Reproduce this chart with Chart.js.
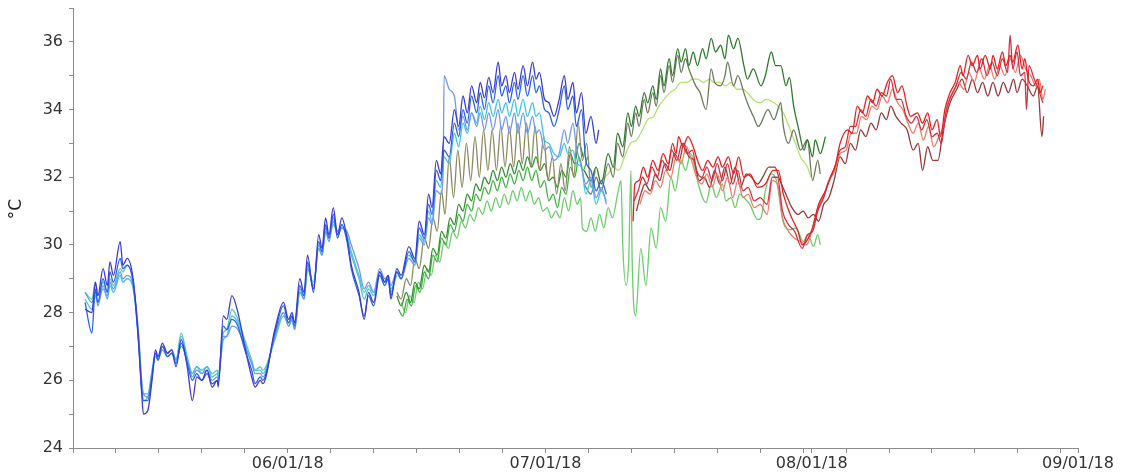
<!DOCTYPE html>
<html>
<head>
<meta charset="utf-8">
<script src="https://cdn.jsdelivr.net/npm/chart.js@4.4.1/dist/chart.umd.min.js"></script>
<style>
    html, body { margin: 0; padding: 0; background: #fff; }
    #wrap { width: 1125px; height: 475px; }
</style>
</head>
<body>
<div id="wrap"><canvas id="tempChart" width="1125" height="475"></canvas></div>
<script>
// x values are days since 2018-05-01 (31 = 06/01, 61 = 07/01, 92 = 08/01, 123 = 09/01)
const monthTicks = [31, 61, 92, 123];
const monthLabels = ['06/01/18', '07/01/18', '08/01/18', '09/01/18'];
const minorTicks = [6, 11, 16, 21, 26, 36, 41, 46, 51, 56, 66, 71, 76, 81, 86, 91, 96, 101, 106, 111, 116, 121];
const yTicks = [24, 25, 26, 27, 28, 29, 30, 31, 32, 33, 34, 35, 36, 37];
const yTitle = '°C';

// blue loggers (May - early July)
const violet = [[7.4,28.1],[8.2,28.0],[8.6,28.9],[8.9,28.5],[9.5,29.3],[10.0,28.8],[10.3,29.5],[10.7,29.1],[11.5,30.1],[11.8,29.4],[12.3,29.6],[13.0,29.0],[13.6,27.3],[14.0,25.6],[14.2,25.0],[14.7,25.1],[15.2,26.0],[15.6,26.9],[15.9,26.7],[16.4,27.1],[17.0,26.8],[17.5,26.9],[18.0,26.4],[18.6,27.2],[19.3,26.4],[19.9,25.4],[20.4,26.1],[21.0,26.0],[21.6,26.3],[22.2,25.8],[22.8,26.0],[22.9,25.8],[23.5,27.9],[23.9,27.8],[24.5,28.5],[25.2,28.0],[26.0,27.0],[26.8,26.1],[27.2,25.8],[27.8,26.0],[28.1,25.9],[29.5,27.5],[30.5,28.3],[31.1,27.8],[31.5,28.0],[31.8,27.7],[32.4,29.0],[32.9,28.6],[33.3,29.7],[34.0,28.6],[34.6,30.3],[35.0,29.9],[35.4,30.8],[35.8,30.3],[36.3,31.1],[36.8,30.3],[37.3,30.8],[37.9,30.2],[38.4,29.4],[39.3,28.6],[39.9,27.8],[40.4,28.6],[41.0,28.3],[41.7,29.2],[42.3,28.9],[42.7,29.1],[43.0,28.4],[43.7,29.3],[44.2,29.1],[45.1,29.95],[45.8,29.6],[46.3,30.7],[46.9,30.3],[47.4,31.5],[47.8,31.1],[48.3,32.5],[48.8,32.1],[49.2,33.2],[49.8,33.0],[50.4,34.0],[50.9,33.5],[51.4,34.4],[51.9,33.9],[52.4,34.7],[53.0,34.2],[53.4,34.8],[53.9,34.35],[54.4,34.95],[54.9,34.5],[55.5,35.4],[55.9,34.7],[56.4,35.0],[56.8,34.5],[57.4,35.1],[57.8,34.6],[58.4,35.3],[58.9,34.7],[59.5,35.4],[59.9,34.9],[60.3,35.1],[60.9,34.3],[61.4,34.2],[62.0,33.8],[62.6,34.3],[63.2,35.0],[63.6,34.3],[64.2,34.8],[64.6,33.9],[65.2,34.5],[65.7,33.3],[66.3,33.8],[66.9,33.0],[67.2,33.4]];
const blue = [[7.4,28.3],[8.2,27.4],[8.6,28.7],[8.9,28.3],[9.5,29.0],[10.0,28.6],[10.3,29.2],[10.7,28.9],[11.5,29.6],[11.8,29.3],[12.3,29.4],[13.0,28.9],[13.6,27.2],[14.0,25.7],[14.2,25.4],[14.7,25.4],[15.2,26.1],[15.6,26.8],[15.9,26.6],[16.4,27.0],[17.0,26.7],[17.5,26.8],[18.0,26.5],[18.6,27.1],[19.3,26.5],[19.9,26.0],[20.4,26.2],[21.0,26.0],[21.6,26.2],[22.2,25.9],[22.8,26.0],[22.9,25.9],[23.5,27.6],[23.9,27.5],[24.5,27.8],[25.2,27.6],[26.0,26.9],[26.8,26.3],[27.2,25.9],[27.8,26.1],[28.1,26.0],[29.5,27.4],[30.5,28.2],[31.1,27.7],[31.5,27.9],[31.8,27.6],[32.4,28.8],[32.9,28.5],[33.3,29.5],[34.0,28.7],[34.6,30.1],[35.0,29.8],[35.4,30.6],[35.8,30.2],[36.3,30.9],[36.8,30.2],[37.3,30.6],[37.9,30.1],[38.4,29.3],[39.3,28.5],[39.9,27.9],[40.4,28.5],[41.0,28.2],[41.7,29.1],[42.3,28.8],[42.7,29.0],[43.0,28.5],[43.7,29.2],[44.2,29.0],[45.1,29.8],[45.8,29.5],[46.3,30.5],[46.9,30.2],[47.4,31.2],[47.8,30.9],[48.3,32.2],[48.8,31.9],[49.2,32.8],[49.8,32.6],[50.4,33.6],[50.9,33.2],[51.4,34.0],[51.9,33.6],[52.4,34.4],[53.0,33.9],[53.4,34.5],[53.9,34.0],[54.4,34.7],[54.9,34.2],[55.5,35.0],[55.9,34.4],[56.4,34.7],[56.8,34.2],[57.4,34.8],[57.8,34.3],[58.4,35.0],[58.9,34.4],[59.5,35.0],[59.9,34.5],[60.3,34.7],[60.9,34.0],[61.4,33.9],[62.0,33.5],[62.6,34.0],[63.2,34.7],[63.6,34.0],[64.2,34.4],[64.6,33.5],[65.2,34.0],[65.7,32.5],[66.3,32.2],[66.9,31.6],[67.5,31.9],[68.1,31.5]];
const paleBlue = [[7.4,28.6],[8.2,28.3],[8.6,28.6],[8.9,28.2],[9.5,28.8],[10.0,28.4],[10.3,28.9],[10.7,28.7],[11.5,29.2],[11.8,29.0],[12.3,29.1],[13.0,28.8],[13.6,27.5],[14.0,26.0],[14.2,25.6],[14.7,25.5],[15.2,26.2],[15.6,26.7],[15.9,26.6],[16.4,26.9],[17.0,26.7],[17.5,26.8],[18.0,26.6],[18.6,27.0],[19.3,26.6],[19.9,26.1],[20.4,26.3],[21.0,26.2],[21.6,26.3],[22.2,26.0],[22.8,26.1],[22.9,26.0],[23.5,27.3],[23.9,27.3],[24.5,27.6],[25.2,27.5],[26.0,27.0],[26.8,26.5],[27.2,26.2],[27.8,26.2],[28.1,26.1],[29.5,27.3],[30.5,28.0],[31.1,27.6],[31.5,27.8],[31.8,27.5],[32.4,28.6],[32.9,28.4],[33.3,29.3],[34.0,28.8],[34.6,29.9],[35.0,29.7],[35.4,30.4],[35.8,30.1],[36.3,30.7],[36.8,30.3],[37.3,30.5],[37.9,30.4],[38.4,30.0],[39.3,29.3],[39.9,28.7],[40.4,28.9],[41.0,28.6],[41.7,29.3],[42.3,29.0],[42.7,29.1],[43.0,28.8],[43.7,29.2],[44.2,29.0],[45.1,29.6],[45.8,29.4],[46.3,30.2],[46.9,30.0],[47.4,30.8],[47.8,30.6],[48.3,31.6],[48.8,31.5],[49.1,32.2],[49.2,35.0],[49.8,34.6],[50.4,34.4],[50.9,33.4],[51.4,33.8],[51.9,33.4],[52.4,33.9],[53.0,33.5],[53.4,33.9],[53.9,33.4],[54.4,33.9],[54.9,33.4],[55.5,34.0],[55.9,33.4],[56.4,33.8],[56.8,33.3],[57.4,33.9],[57.8,33.3],[58.4,33.9],[58.9,33.3],[59.5,33.8],[59.9,33.3],[60.3,33.4],[60.9,32.8],[61.4,32.9],[62.0,32.5],[62.6,32.7],[63.2,33.4],[63.6,33.0],[64.2,33.6],[64.6,32.9],[65.2,32.3],[65.7,31.8],[66.3,32.0],[66.9,31.4],[67.5,31.7],[68.1,31.2]];
const cyan = [[7.4,28.4],[8.2,28.1],[8.6,28.5],[8.9,28.3],[9.5,28.7],[10.0,28.5],[10.3,28.8],[10.7,28.6],[11.5,29.1],[11.8,28.9],[12.3,29.0],[13.0,28.7],[13.6,27.4],[14.0,25.9],[14.2,25.6],[14.7,25.6],[15.2,26.3],[15.6,26.8],[15.9,26.7],[16.4,27.0],[17.0,26.8],[17.5,26.9],[18.0,26.6],[18.6,27.3],[19.3,26.7],[19.9,26.2],[20.4,26.4],[21.0,26.3],[21.6,26.4],[22.2,26.1],[22.8,26.2],[22.9,26.1],[23.5,27.2],[23.9,27.3],[24.5,27.9],[25.2,27.7],[26.0,27.1],[26.8,26.5],[27.2,26.3],[27.8,26.3],[28.1,26.2],[29.5,27.3],[30.5,28.0],[31.1,27.6],[31.5,27.8],[31.8,27.5],[32.4,28.7],[32.9,28.4],[33.3,29.4],[34.0,28.7],[34.6,30.0],[35.0,29.7],[35.4,30.5],[35.8,30.2],[36.3,30.8],[36.8,30.4],[37.3,30.6],[37.9,30.2],[38.4,29.7],[39.3,29.0],[39.9,28.4],[40.4,28.7],[41.0,28.5],[41.7,29.2],[42.3,28.9],[42.7,29.1],[43.0,28.6],[43.7,29.2],[44.2,29.0],[45.1,29.7],[45.8,29.5],[46.3,30.3],[46.9,30.1],[47.4,31.0],[47.8,30.7],[48.3,31.9],[48.8,31.7],[49.2,32.6],[49.8,32.4],[50.4,33.3],[50.9,32.9],[51.4,33.6],[51.9,33.3],[52.4,33.9],[53.0,33.6],[53.4,34.1],[53.9,33.7],[54.4,34.2],[54.9,33.8],[55.5,34.3],[55.9,33.9],[56.4,34.2],[56.8,33.8],[57.4,34.3],[57.8,33.8],[58.4,34.3],[58.9,33.8],[59.5,34.2],[59.9,33.8],[60.3,33.9],[60.9,33.1],[61.4,33.0],[62.0,32.7],[62.6,32.6],[63.2,33.0],[63.6,32.7],[64.2,32.8],[64.6,32.4],[65.2,32.3],[65.7,31.5],[66.3,31.9],[66.9,31.2],[67.5,31.6],[68.1,31.3]];
const teal = [[7.4,28.6],[8.2,28.4],[8.6,28.9],[8.9,28.5],[9.5,28.9],[10.0,28.6],[10.3,29.0],[10.7,28.8],[11.5,29.3],[11.8,29.2],[12.3,29.4],[13.0,28.9],[13.6,27.3],[14.0,25.8],[14.2,25.4],[14.7,25.5],[15.2,26.1],[15.6,26.8],[15.9,26.6],[16.4,27.0],[17.0,26.8],[17.5,26.9],[18.0,26.6],[18.6,27.4],[19.3,26.6],[19.9,26.2],[20.4,26.4],[21.0,26.2],[21.6,26.4],[22.2,26.2],[22.8,26.3],[22.9,26.2],[23.5,27.4],[23.9,27.5],[24.5,28.1],[25.2,27.8],[26.0,27.2],[26.8,26.6],[27.2,26.3],[27.8,26.4],[28.1,26.3],[29.5,27.2],[30.5,27.9],[31.1,27.7],[31.5,27.9],[31.8,27.6],[32.4,28.6],[32.9,28.5],[33.3,29.3],[34.0,28.9],[34.6,29.9],[35.0,29.7],[35.4,30.4],[35.8,30.2],[36.3,30.6],[36.8,30.4],[37.3,30.5],[37.9,30.3],[38.4,29.8],[39.3,29.1],[39.9,28.6],[40.4,28.8],[41.0,28.6],[41.7,29.1],[42.3,28.9],[42.7,29.0],[43.0,28.7],[43.7,29.1]];

// green loggers (mid June - early August)
const olive = [[43.7,28.6],[44.2,28.4],[44.8,29.0],[45.3,28.8],[45.8,29.6],[46.3,29.3],[46.9,30.2],[47.4,29.9],[47.9,30.8],[48.4,30.4],[48.9,31.6],[49.3,30.9],[49.8,32.6],[50.3,31.4],[50.8,32.8],[51.3,31.7],[51.8,33.0],[52.3,31.9],[52.8,33.2],[53.3,32.0],[53.8,33.4],[54.3,32.2],[54.8,33.4],[55.3,32.2],[55.8,33.5],[56.3,32.3],[56.8,33.5],[57.3,32.3],[57.8,33.6],[58.3,32.4],[58.8,33.6],[59.3,32.3],[59.8,33.5],[60.3,32.2],[60.8,33.2],[61.3,31.9],[61.8,32.6],[62.3,31.5],[62.8,32.4],[63.3,31.6],[63.8,32.9],[64.3,32.0],[64.8,33.6],[65.3,32.5],[65.8,33.0],[66.3,31.7],[66.8,32.2]];
const green1 = [[43.7,28.5],[44.2,28.2],[44.8,28.6],[45.3,28.3],[45.8,28.9],[46.3,28.7],[46.9,29.4],[47.4,29.2],[47.9,29.9],[48.4,29.7],[48.9,30.4],[49.4,30.2],[49.9,30.8],[50.4,30.6],[50.9,31.2],[51.4,31.0],[51.9,31.5],[52.4,31.3],[52.9,31.8],[53.4,31.6],[53.9,32.0],[54.4,31.8],[54.9,32.2],[55.4,31.9],[55.9,32.3],[56.4,32.0],[56.9,32.4],[57.4,32.1],[57.9,32.5],[58.4,32.2],[58.9,32.6],[59.4,32.3],[59.9,32.6],[60.4,32.2],[60.9,32.4],[61.4,31.9],[61.9,32.0],[62.4,31.7],[62.9,32.2],[63.4,32.0],[63.9,32.7],[64.4,32.4],[64.9,33.0],[65.4,32.6]];
const green2 = [[43.9,28.1],[44.4,27.9],[44.9,28.4],[45.4,28.2],[45.9,28.8],[46.4,28.6],[46.9,29.2],[47.4,29.0],[47.9,29.7],[48.4,29.5],[48.9,30.2],[49.4,30.0],[49.9,30.6],[50.4,30.4],[50.9,30.9],[51.4,30.7],[51.9,31.2],[52.4,31.0],[52.9,31.5],[53.4,31.3],[53.9,31.7],[54.4,31.5],[54.9,31.9],[55.4,31.6],[55.9,32.0],[56.4,31.7],[56.9,32.1],[57.4,31.8],[57.9,32.2],[58.4,31.9],[58.9,32.3],[59.4,31.9],[59.9,32.2],[60.4,31.7],[60.9,31.9],[61.4,31.3],[61.9,31.5],[62.4,31.1],[62.9,31.7],[63.4,31.5],[63.9,32.3],[64.4,32.0],[64.9,32.6],[65.4,32.2],[65.9,32.6]];
const green3 = [[44.2,28.3],[44.7,28.0],[45.2,28.5],[45.7,28.3],[46.2,28.9],[46.7,28.7],[47.2,29.3],[47.7,29.1],[48.2,29.7],[48.7,29.5],[49.2,30.1],[49.7,29.9],[50.2,30.4],[50.7,30.2],[51.2,30.7],[51.7,30.5],[52.2,30.9],[52.7,30.7],[53.2,31.1],[53.7,30.9],[54.2,31.3],[54.7,31.0],[55.2,31.4],[55.7,31.1],[56.2,31.5],[56.7,31.2],[57.2,31.6],[57.7,31.3],[58.2,31.7],[58.7,31.3],[59.2,31.6],[59.7,31.2],[60.2,31.4],[60.7,31.0],[61.2,31.1],[61.7,30.8],[62.2,31.0],[62.7,30.8],[63.2,31.4],[63.7,31.0],[64.2,31.6],[64.7,31.2],[65.1,31.4],[65.3,30.5],[65.8,30.4],[66.3,30.8],[66.8,30.4],[67.3,30.9],[67.8,30.5],[68.3,31.1],[68.8,30.8],[69.4,31.5],[69.8,31.9],[70.0,30.0],[70.4,28.8],[70.7,29.6],[70.95,32.2],[71.1,29.5],[71.5,27.9],[72.1,29.9],[72.7,28.8],[73.3,30.5],[73.9,29.9],[74.4,31.1],[75.0,30.7],[75.6,32.0],[76.1,31.6],[76.8,32.5],[77.3,32.2],[77.9,32.7],[78.4,32.3],[78.7,31.9],[79.7,31.25],[80.3,31.8],[80.9,31.4],[81.6,31.8],[82.0,31.3],[82.6,31.4],[83.1,31.1],[83.6,31.5],[84.1,31.4],[84.8,31.2],[85.7,30.75],[86.1,30.8],[86.6,31.6],[87.3,32.1],[87.9,31.9],[88.7,30.65],[89.5,30.45],[90.2,30.5],[91.0,30.1],[91.6,30.3],[92.2,29.95],[92.7,30.3],[93.0,30.0]];
const darkGreen = [[65.5,32.2],[66.3,31.9],[66.9,32.3],[67.5,31.8],[68.3,32.7],[68.9,32.3],[69.4,33.3],[70.0,32.9],[70.6,33.9],[71.0,33.5],[71.5,34.1],[71.9,33.8],[72.5,34.5],[72.9,34.2],[73.5,34.7],[73.9,34.3],[74.4,35.2],[74.8,34.7],[75.4,35.5],[75.8,35.0],[76.4,35.8],[76.8,35.4],[77.3,35.8],[77.7,35.3],[78.2,35.7],[78.7,35.3],[79.3,35.8],[79.7,35.5],[80.3,36.1],[80.8,35.7],[81.4,35.9],[81.9,35.5],[82.3,36.2],[82.9,35.8],[83.4,36.1],[84.1,35.3],[84.5,34.9],[85.2,35.2],[86.1,34.7],[86.6,35.0],[87.3,35.7],[87.8,35.3],[88.4,35.3],[89.0,34.7],[89.4,34.95],[89.9,34.1],[90.5,33.4],[91.1,32.8],[91.5,33.1],[92.1,32.6],[92.4,33.1],[93.0,32.7],[93.6,33.2]];
const grayGreen = [[65.5,31.8],[66.3,31.5],[66.9,32.0],[67.5,31.6],[68.3,32.4],[68.9,32.0],[69.4,33.0],[70.0,32.6],[70.6,33.6],[71.0,33.2],[71.5,33.9],[71.9,33.5],[72.5,34.3],[72.9,33.9],[73.5,34.5],[73.9,34.1],[74.4,35.0],[74.8,34.5],[75.4,35.3],[75.8,34.8],[76.4,35.6],[76.8,35.1],[77.3,35.5],[77.7,35.2],[78.5,34.7],[79.0,34.5],[79.7,34.0],[80.3,35.2],[80.7,34.8],[81.4,34.7],[81.9,35.0],[82.2,35.4],[82.9,34.7],[83.4,35.0],[84.1,34.5],[84.5,34.2],[85.2,33.8],[85.8,33.5],[86.1,33.6],[86.9,34.0],[87.6,33.7],[88.4,34.2],[88.7,33.5],[89.3,33.0],[89.9,33.4],[90.7,32.8],[91.5,33.1],[92.1,31.9],[92.7,32.5],[93.0,32.1]];
const limeGreen = [[67.5,31.9],[68.3,32.1],[68.9,32.3],[69.5,32.2],[70.2,32.6],[70.9,33.0],[71.6,33.1],[72.3,33.4],[72.9,33.7],[73.6,33.8],[74.2,34.1],[74.8,34.3],[75.5,34.5],[76.1,34.6],[76.8,34.8],[77.5,34.8],[78.1,34.9],[78.7,34.9],[79.4,34.8],[80.1,34.9],[80.6,34.8],[81.3,34.8],[82.0,34.7],[82.6,34.8],[83.3,34.6],[84.0,34.6],[84.5,34.5],[85.2,34.3],[86.0,34.2],[86.7,34.3],[87.6,34.2],[88.1,34.1],[88.7,33.9],[89.5,33.4],[90.1,33.0],[90.7,32.6],[91.5,32.3],[91.9,32.0]];

// red loggers (July - end of August)
const red1 = [[71.2,30.7],[71.4,31.8],[71.9,31.9],[72.4,32.3],[72.9,32.0],[73.5,32.5],[74.1,32.2],[74.7,32.7],[75.3,32.4],[75.8,33.0],[76.2,32.7],[76.5,33.2],[77.0,32.9],[77.6,33.2],[78.2,32.9],[78.7,32.5],[79.3,32.2],[79.9,32.5],[80.5,32.3],[81.1,32.6],[81.6,32.3],[82.3,32.6],[82.9,32.1],[83.5,32.6],[84.1,32.0],[84.8,32.1],[85.7,31.7],[86.6,31.8],[87.5,32.2],[88.1,32.2],[88.7,31.5],[89.5,30.9],[90.4,30.4],[90.9,30.0],[91.6,30.2],[92.2,30.6],[92.8,31.2],[93.6,31.6],[94.2,32.0],[94.8,32.4],[95.3,33.0],[96.2,33.4],[96.7,33.3],[97.3,34.1],[97.9,33.9],[98.5,34.4],[99.1,34.2],[99.6,34.6],[100.2,34.4],[100.8,34.8],[101.4,35.0],[102.0,34.5],[102.5,34.7],[103.1,34.1],[103.5,33.8],[104.3,33.9],[104.9,33.6],[105.5,33.9],[106.0,33.4],[106.6,33.7],[107.0,33.2],[107.5,34.0],[108.1,34.5],[108.7,34.8],[109.3,35.3],[109.6,35.0],[110.2,35.6],[110.7,35.3],[111.3,35.6],[111.6,35.2],[112.2,35.6],[112.8,35.2],[113.1,35.6],[113.6,35.2],[114.2,35.7],[114.6,35.3],[115.1,35.6],[115.4,35.4],[116.0,35.9],[116.5,35.2],[116.8,35.5],[117.2,34.9],[117.8,34.7],[118.3,34.9],[118.6,34.5],[118.9,34.7]];
const red2 = [[71.6,31.0],[72.1,31.5],[72.6,31.8],[73.2,31.6],[73.8,32.1],[74.3,31.9],[74.9,32.4],[75.5,32.2],[76.0,32.7],[76.6,32.5],[77.1,33.0],[77.7,32.6],[78.3,32.5],[78.9,31.9],[79.5,32.0],[80.1,31.7],[80.7,32.2],[81.3,31.8],[81.9,32.3],[82.5,31.8],[83.1,32.3],[83.7,31.7],[84.4,32.1],[85.0,32.0],[85.7,31.8],[86.3,32.0],[87.0,32.3],[87.7,32.3],[88.3,31.9],[89.0,31.5],[89.7,31.1],[90.4,30.9],[91.0,31.0],[91.6,30.8],[92.2,30.9],[92.8,30.7],[93.4,31.2],[94.0,31.4],[94.6,31.9],[95.3,32.6],[95.9,32.4],[96.5,33.0],[97.1,32.8],[97.7,33.4],[98.3,33.2],[98.9,33.6],[99.5,33.4],[100.1,33.9],[100.7,33.7],[101.2,34.1],[101.8,33.8],[102.4,33.6],[103.1,33.4],[103.8,32.8],[104.4,33.0],[104.9,32.2],[105.5,32.9],[106.1,32.5],[106.7,32.5],[107.3,33.4],[108.1,34.2],[108.9,34.6],[109.5,34.9],[110.1,34.5],[110.7,34.9],[111.3,34.5],[111.9,34.8],[112.5,34.4],[113.1,34.8],[113.7,34.4],[114.3,34.8],[114.9,34.5],[115.5,34.9],[115.9,34.5],[116.5,34.9],[117.1,34.7],[117.8,34.4],[118.3,34.7],[118.8,33.2],[119.0,33.8]];
const red3 = [[71.3,31.3],[71.8,31.6],[72.3,32.0],[72.8,31.8],[73.4,32.3],[74.0,32.0],[74.6,32.5],[75.2,32.2],[75.7,32.8],[76.3,32.5],[76.9,33.0],[77.5,32.7],[78.1,32.8],[78.6,32.2],[79.2,32.0],[79.8,32.3],[80.4,31.9],[81.0,32.4],[81.6,31.9],[82.2,32.4],[82.8,31.8],[83.4,32.2],[84.0,31.6],[84.6,31.7],[85.3,31.3],[86.0,31.4],[86.8,31.2],[87.4,32.0],[88.0,32.0],[88.6,31.0],[89.3,30.6],[90.0,30.4],[90.9,29.9],[91.5,30.3],[92.1,30.4],[92.7,31.0],[93.4,31.4],[94.0,31.9],[94.7,32.3],[95.3,32.8],[95.9,32.9],[96.5,33.5],[97.1,33.5],[97.7,34.0],[98.3,33.8],[98.9,34.3],[99.5,34.1],[100.1,34.5],[100.7,34.4],[101.2,34.9],[101.8,34.3],[102.4,34.3],[103.0,33.8],[103.6,33.6],[104.2,33.8],[104.8,33.4],[105.4,33.7],[106.0,33.2],[106.6,33.3],[107.1,33.0],[107.6,33.9],[108.2,34.4],[108.8,34.7],[109.4,35.1],[110.0,34.9],[110.6,35.4],[111.2,35.1],[111.8,35.5],[112.4,35.0],[113.0,35.4],[113.6,35.0],[114.2,35.5],[114.8,35.1],[115.1,36.2],[115.4,35.2],[115.9,35.7],[116.3,35.0],[116.8,35.1],[117.0,34.0],[117.3,35.3],[117.9,34.9],[118.4,34.6],[118.9,34.2]];
const salmon = [[72.0,31.2],[72.6,31.6],[73.2,31.5],[73.8,31.9],[74.4,31.7],[75.0,32.2],[75.6,32.0],[76.2,32.6],[76.8,32.4],[77.4,32.9],[78.0,32.5],[78.6,32.0],[79.2,31.8],[79.8,32.1],[80.4,31.7],[81.0,32.1],[81.6,31.6],[82.2,32.0],[82.8,31.4],[83.4,31.9],[84.0,31.4],[84.6,31.5],[85.3,31.1],[86.0,31.2],[86.8,30.9],[87.4,31.9],[88.0,31.8],[88.6,30.8],[89.3,30.4],[90.0,30.2],[90.7,30.1],[91.4,30.0],[92.0,30.4],[92.6,31.0],[93.3,31.4],[94.0,31.9],[94.7,32.2],[95.3,32.7],[96.0,32.8],[96.6,33.3],[97.2,33.3],[97.8,33.8],[98.4,33.7],[99.0,34.1],[99.6,34.0],[100.2,34.4],[100.8,34.2],[101.4,34.6],[102.0,34.2],[102.6,34.0],[103.2,33.6],[103.8,33.3],[104.4,33.6],[105.0,33.1],[105.6,33.5],[106.2,32.9],[106.8,33.2],[107.3,33.5],[107.9,34.2],[108.5,34.5],[109.1,34.8],[109.7,34.6],[110.3,35.1],[110.9,34.8],[111.5,35.2],[112.1,34.9],[112.7,35.3],[113.3,34.9],[113.9,35.3],[114.5,35.0],[115.1,35.5],[115.7,35.1],[116.3,35.6],[116.9,35.2],[117.5,35.0],[118.1,34.7],[118.5,34.9],[118.9,34.3],[119.2,34.6]];

const series = [
    { data: violet, color: '#3a3ad6' },
    { data: blue, color: '#2a62e6' },
    { data: paleBlue, color: '#6f98ee' },
    { data: cyan, color: '#3cc4ea' },
    { data: teal, color: '#5cc8b0' },
    { data: red1, color: '#e81e1e' },
    { data: red3, color: '#d23040' },
    { data: salmon, color: '#ee7c6c' },
    { data: red2, color: '#983838' },
    { data: darkGreen, color: '#2e7a2e' },
    { data: grayGreen, color: '#6c7a5c' },
    { data: limeGreen, color: '#b6e070' },
    { data: olive, color: '#8a8a62' },
    { data: green1, color: '#2f8f2f' },
    { data: green2, color: '#40b040' },
    { data: green3, color: '#6ccc6c' }
];

// rotated unit label left of the y axis
const yTitlePlugin = {
    id: 'yTitle',
    afterDraw(chart) {
        const c = chart.ctx;
        c.save();
        c.translate(17, 209);
        c.rotate(-Math.PI / 2);
        c.font = '17px "DejaVu Sans"';
        c.fillStyle = '#222';
        c.textAlign = 'center';
        c.textBaseline = 'middle';
        c.fillText(yTitle, 0, 0);
        c.restore();
    }
};

document.addEventListener('DOMContentLoaded', () => {
    const ctx = document.getElementById('tempChart');
    const axisColor = '#8c8c8c';
    const labelFont = { family: 'DejaVu Sans', size: 16 };

    new Chart(ctx, {
        type: 'line',
        data: {
            datasets: series.map(s => ({
                data: s.data.map(p => ({ x: p[0], y: p[1] })),
                borderColor: s.color,
                borderWidth: 1.3,
                pointRadius: 0,
                fill: false,
                cubicInterpolationMode: 'monotone'
            }))
        },
        plugins: [yTitlePlugin],
        options: {
            responsive: false,
            animation: false,
            devicePixelRatio: 1,
            layout: {
                padding: { top: 8, right: 47, left: 0, bottom: 0 }
            },
            plugins: {
                legend: { display: false },
                tooltip: { enabled: false }
            },
            scales: {
                x: {
                    type: 'linear',
                    min: 6,
                    max: 123,
                    afterFit: scale => { scale.height = 27; },
                    afterBuildTicks: scale => {
                        scale.ticks = minorTicks.concat(monthTicks)
                            .sort((a, b) => a - b)
                            .map(v => ({ value: v }));
                    },
                    ticks: {
                        autoSkip: false,
                        maxRotation: 0,
                        padding: 1,
                        color: '#333',
                        font: labelFont,
                        callback: function(value) {
                            const i = monthTicks.indexOf(value);
                            return i >= 0 ? monthLabels[i] : '';
                        }
                    },
                    grid: {
                        drawOnChartArea: false,
                        tickLength: 5,
                        tickColor: axisColor
                    },
                    border: { color: axisColor }
                },
                y: {
                    min: 24,
                    max: 37,
                    afterFit: scale => {
                        scale.width = 73;
                        scale.paddingTop = 0;
                    },
                    afterBuildTicks: scale => {
                        scale.ticks = yTicks.map(v => ({ value: v }));
                    },
                    ticks: {
                        padding: 6,
                        color: '#333',
                        font: labelFont,
                        callback: function(value) {
                            return (value % 2 === 0 && value < 37) ? value : '';
                        }
                    },
                    grid: {
                        drawOnChartArea: false,
                        tickLength: 4,
                        tickColor: axisColor
                    },
                    border: { color: axisColor }
                }
            }
        }
    });
});
</script>
</body>
</html>
